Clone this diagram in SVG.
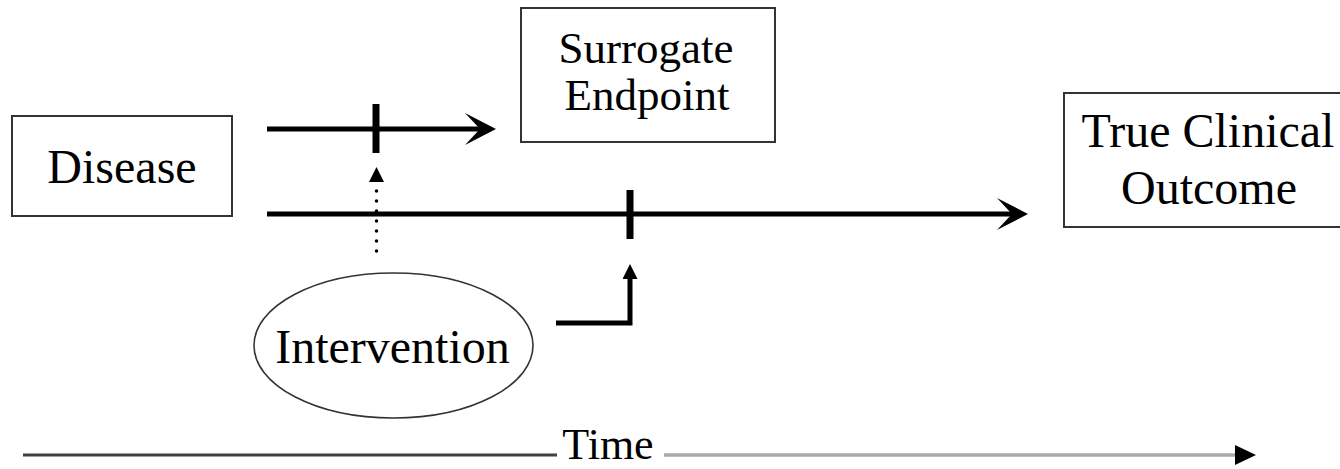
<svg xmlns="http://www.w3.org/2000/svg" width="1340" height="469" viewBox="0 0 1340 469">
  <style>
    .box { fill: #fff; stroke: #333; stroke-width: 2; }
    .lbl { font-family: "Liberation Serif", Tinos, "Times New Roman", "DejaVu Serif", serif; font-size: 48px; fill: #000; text-anchor: middle; }
    .thick { fill: none; stroke: #000; stroke-width: 5; }
    .tick { stroke: #000; stroke-width: 7; }
  </style>
  <defs>
    <marker id="barb" markerUnits="userSpaceOnUse" markerWidth="32" markerHeight="34" viewBox="0 0 32 34" refX="15" refY="16" orient="auto">
      <path d="M0,0 L31,16 L0,32 L15,16 Z" fill="#000"/>
    </marker>
    <marker id="tri" markerUnits="userSpaceOnUse" markerWidth="16" markerHeight="16" viewBox="0 0 16 16" refX="1" refY="7.5" orient="auto">
      <path d="M0,0 L15,7.5 L0,15 Z" fill="#000"/>
    </marker>
  </defs>

  <g id="disease">
    <rect class="box" x="12" y="116" width="220" height="100"/>
    <text class="lbl" x="122" y="183">Disease</text>
  </g>

  <g id="surrogate">
    <rect class="box" x="521" y="8" width="254" height="134"/>
    <text class="lbl" x="646" y="63" style="font-size:45px">Surrogate</text>
    <text class="lbl" x="647" y="110" style="font-size:45px">Endpoint</text>
  </g>

  <g id="outcome">
    <rect class="box" x="1064" y="93" width="300" height="134"/>
    <text class="lbl" x="1208" y="147">True Clinical</text>
    <text class="lbl" x="1209" y="204">Outcome</text>
  </g>

  <g id="intervention">
    <ellipse cx="393.5" cy="345.5" rx="139.5" ry="72.5" fill="#fff" stroke="#333" stroke-width="1.6"/>
    <text class="lbl" x="392.5" y="363">Intervention</text>
  </g>

  <g id="time">
    <line x1="23" y1="455" x2="557" y2="455" stroke="#404040" stroke-width="3"/>
    <text class="lbl" x="608" y="459" style="font-size:44px">Time</text>
    <line x1="664" y1="455" x2="1238" y2="455" stroke="#aaa" stroke-width="3.5"/>
    <path d="M1235,445 L1256,455 L1235,465 Z" fill="#000"/>
  </g>

  <g id="connectors">
    <line class="thick" x1="267" y1="129" x2="480" y2="129" marker-end="url(#barb)"/>
    <line class="tick" x1="376" y1="104" x2="376" y2="153"/>
    <line class="thick" x1="267" y1="214" x2="1012" y2="214" marker-end="url(#barb)"/>
    <line class="tick" x1="630" y1="190" x2="630" y2="239"/>
    <line x1="376.5" y1="251" x2="376.5" y2="186" stroke="#000" stroke-width="3.5" stroke-linecap="round" stroke-dasharray="0 10"/>
    <line x1="376.5" y1="182" x2="376.5" y2="181" stroke="#000" stroke-width="1" marker-end="url(#tri)"/>
    <path class="thick" d="M556,323 H630 V278" stroke-linejoin="miter" marker-end="url(#tri)"/>
  </g>
</svg>
